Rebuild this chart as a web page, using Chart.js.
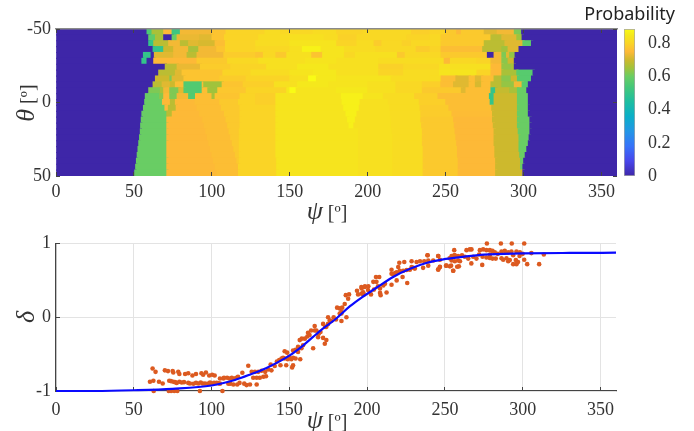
<!DOCTYPE html>
<html>
<head>
<meta charset="utf-8">
<script src="https://cdn.jsdelivr.net/npm/chart.js@4"></script>
<style>
    html, body { margin: 0; background: #fff; }
    canvas { position: absolute; left: 0; top: 0; }
</style>
</head>
<body>
<canvas id="mapChart" width="694" height="431"></canvas>
<canvas id="barChart" width="694" height="431"></canvas>
<canvas id="fitChart" width="694" height="431"></canvas>
<script>
// Probability map: each row is psi start, value, psi start, value ...
const mapThetas = [-48, -44, -40, -36, -32, -28, -24, -20, -16, -12, -8, -4, 0, 4, 8, 12, 16, 20, 24, 28, 32, 36, 40, 44, 48];
const mapRows = [
    [0,0, 58.3,.55, 61.5,.66, 69,.75, 74.4,.52, 79.7,.74, 100,.77, 109,.8, 134,.82, 144,.81, 165,.82, 180,.8, 197,.81, 228,.79, 240,.8, 250,.78, 257,.75, 260,.78, 274.7,.72, 283,.74, 294,.62, 298.7,0],
    [0,0, 59.4,.58, 63.7,.66, 69,0, 74.4,.6, 77.6,.73, 92,.72, 100,.77, 108,.8, 130,.82, 150,.83, 172,.82, 181,.795, 193,.81, 225,.8, 240,.81, 247,.78, 279,.68, 286,.72, 295.6,.65, 299,0],
    [0,0, 59.4,.5, 62.6,.68, 72.2,.74, 79.7,.68, 85,.72, 91.5,.71, 102,.76, 108.6,.8, 128,.82, 150,.84, 165,.84, 180,.8, 193,.82, 204,.785, 209,.81, 222,.795, 228,.81, 247,.78, 274.7,.68, 288,.72, 299.5,.58, 305,0],
    [0,0, 62.2,.5, 69,.7, 75.4,.74, 85,.66, 91.5,.74, 103,.77, 108.6,.8, 128,.81, 150,.83, 158,.87, 170,.84, 185,.82, 205,.81, 231,.785, 240,.8, 247,.76, 273.7,.68, 286,.65, 290,.72, 297,0],
    [0,0, 56,.5, 60.9,0, 63,.72, 75.4,.74, 84,.68, 90.4,.74, 107.6,.785, 128,.77, 133,.81, 141,.78, 148,.83, 164,.77, 171,.84, 185,.81, 192,.83, 219,.78, 224,.81, 247,.78, 276.7,0, 281,.74, 286,.62, 289,.72, 291,.64, 294.5,0],
    [0,0, 55,.5, 58.3,0, 62.6,.75, 90.4,.78, 110,.81, 130,.83, 160,.84, 180,.83, 207,.82, 249,.75, 253,.81, 270,.8, 279,.74, 286,.63, 290,.7, 294,0],
    [0,0, 70,.68, 77.6,.73, 92.6,.785, 112,.8, 135,.83, 155,.85, 175,.83, 207,.795, 223,.81, 246,.83, 279,.75, 286,.64, 292,.66, 294,0],
    [0,0, 65.8,.68, 76.5,.72, 80.8,.77, 107,.8, 125,.82, 150,.84, 165,.85, 180,.83, 207,.8, 223,.82, 246,.84, 270,.8, 279,.75, 286,.66, 295.6,.57, 306,0],
    [0,0, 63.7,.7, 73,.62, 74.4,.72, 82,.77, 105,.785, 122,.8, 150,.83, 162,.887, 167,.85, 180,.84, 215,.82, 240,.82, 247,.76, 256.5,.72, 265,.76, 269,.72, 273,.76, 281,.68, 286,.63, 292,.7, 296,.57, 305,0],
    [0,0, 62.2,.68, 68,.72, 73.3,.7, 76.5,.76, 82,.56, 93.7,.76, 94.7,.65, 106.5,.77, 120,.79, 140,.83, 155,.85, 175,.84, 200,.83, 218,.81, 235,.79, 246.8,.76, 255,.72, 265,.76, 269,.71, 273,.76, 279,.68, 286,.64, 294,.74, 299,.57, 303,0],
    [0,0, 59.4,.62, 66.9,.66, 69,.74, 72.9,.62, 78.7,.72, 82,.56, 93.7,.76, 97.3,.65, 103.7,.775, 122,.8, 148,.85, 150,.887, 154,.84, 180,.85, 200,.83, 218,.81, 235,.78, 260,.72, 263,.76, 279,.5, 282,.69, 291,.66, 296,.6, 302,0],
    [0,0, 57.2,.6, 66.4,.63, 69,.75, 72.9,.62, 77.6,.74, 85,.56, 89.4,.76, 100,.66, 102,.77, 118,.8, 128,.79, 141,.84, 183,.865, 197,.84, 210,.82, 230,.79, 245,.76, 278,.5, 281,.7, 296,.6, 303,0],
    [0,0, 56.8,.6, 68.2,.75, 73.3,.68, 76.5,.75, 89,.76, 105,.78, 117,.8, 128,.79, 141,.84, 183.5,.865, 195,.83, 213,.82, 233,.79, 250,.76, 278.5,.5, 281,.7, 296,.6, 303,0],
    [0,0, 56,.6, 69.8,.75, 72,.68, 77,.75, 90.5,.76, 106,.78, 118,.8, 141,.84, 184.5,.865, 194.5,.83, 214,.82, 233.5,.785, 252,.76, 279.5,.7, 296,.6, 303,0],
    [0,0, 55,.6, 71,.68, 74.5,.75, 92,.76, 108,.78, 118,.8, 141,.84, 186,.865, 193,.83, 214.5,.82, 234,.785, 254,.755, 280,.7, 296,.6, 303,0],
    [0,0, 54.6,.6, 71,.75, 94,.76, 109,.78, 118,.8, 141,.84, 187,.865, 192,.83, 215,.82, 234,.78, 255,.75, 280,.7, 296,.6, 304,0],
    [0,0, 54.2,.6, 71,.75, 95,.76, 110,.78, 118,.8, 141,.84, 188,.865, 191,.83, 215,.82, 234.5,.78, 255.5,.75, 280.5,.7, 296,.6, 304,0],
    [0,0, 54,.6, 71,.75, 96,.76, 111,.78, 117.5,.8, 141,.84, 194,.83, 215.5,.82, 235,.78, 256,.75, 281,.7, 296.5,.6, 304,0],
    [0,0, 53.5,.6, 71,.75, 97,.76, 112,.78, 117.5,.8, 141,.84, 194,.83, 216,.82, 235,.78, 256.5,.75, 281,.7, 297,.6, 303.5,0],
    [0,0, 53,.6, 71,.75, 98,.76, 113,.78, 117.5,.8, 141,.84, 194,.83, 216,.82, 235,.78, 257,.75, 281,.7, 297,.6, 303,0],
    [0,0, 52.5,.6, 71,.75, 99,.76, 114,.78, 117.5,.8, 141,.84, 194,.83, 216,.82, 235.5,.78, 257.5,.75, 281.5,.7, 297,.6, 302,0],
    [0,0, 52,.6, 71,.75, 100,.76, 115,.78, 117.5,.8, 141,.84, 194,.83, 216,.82, 235.5,.78, 257.5,.75, 281.5,.7, 297.5,.6, 301,0],
    [0,0, 51.5,.6, 71,.75, 101,.76, 116,.78, 117.5,.8, 141.5,.84, 194,.83, 216,.82, 235.5,.78, 258,.75, 282,.7, 298,.6, 300,0],
    [0,0, 51,.6, 71,.75, 102,.76, 117,.8, 141.5,.84, 194,.83, 216,.82, 235.5,.78, 258,.75, 282,.7, 298,.6, 299.5,0],
    [0,0, 50.4,.6, 71,.75, 103,.76, 117,.8, 141.5,.84, 194,.83, 216,.82, 235.5,.78, 258,.75, 282,.7, 299.5,0]
];

// Colour bar stops: value, r, g, b
const barStops = [
    [0, 62, 38, 168], [.09, 72, 70, 235], [.18, 55, 115, 250], [.27, 35, 150, 230],
    [.36, 10, 175, 200], [.45, 30, 190, 160], [.54, 70, 200, 120], [.6, 105, 205, 100],
    [.65, 160, 195, 60], [.7, 205, 185, 45], [.75, 253, 185, 55], [.8, 250, 212, 38],
    [.85, 245, 232, 28], [.887, 249, 251, 21]
];
const barMax = 0.887;

// Lower panel: fitted curve
const curvePsi = [0, 25, 50, 75, 100, 115, 125, 135, 150, 159, 170, 180, 189, 196, 206, 217, 228, 238, 249, 260, 275, 300, 330, 360];
const curveDelta = [-1, -1, -.99, -.97, -.925, -.85, -.775, -.69, -.52, -.38, -.18, -.02, .15, .26, .4, .55, .66, .735, .785, .815, .85, .865, .872, .875];

// Lower panel: measured points as psi, delta
const dotPairs = [
    [62.1,-.695],[64,-.74],[70,-.72],[72,-.73],[75,-.73],[75.4,-.75],[78.6,-.74],[79.3,-.77],[83,-.77],[85,-.76],[87.7,-.79],[90,-.77],[93.5,-.76],[94.6,-.78],[96.4,-.75],[98.5,-.79],[100.4,-.78],[102,-.79],
    [60.4,-.875],[62.6,-.862],[66.2,-.875],[68.6,-.898],[72.8,-.862],[73.9,-.866],[75.4,-.875],[76.5,-.88],[77.6,-.89],[79.3,-.875],[80.8,-.884],[82.3,-.88],[85,-.89],[86.1,-.898],[88.3,-.902],[91.5,-.898],[94.3,-.898],[95.8,-.898],[97.9,-.898],[100.1,-.898],[101.6,-.89],[103.3,-.89],
    [90,-.89],[93,-.885],[99,-.885],[104.5,-.895],[62.8,-1],[72.5,-1],[74,-1],[76,-1],[78,-1],[92.5,-1],[107,-1],
    [105.4,-.83],[105.4,-.9],[107.6,-.83],[110,-.82],[113,-.82],[116,-.82],[117,-.807],[119.8,-.753],[123.6,-.658],[125.8,-.74],[127.9,-.74],[130,-.74],[132.2,-.726],[136.5,-.708],[126.8,-.82],[129,-.82],[131,-.82],[133.3,-.807],[122.5,-.92],[124.7,-.911],[129,-.911],[110.8,-.9],[114,-.911],[116.5,-.911],
    [108,-.82],[111.5,-.83],[114.5,-.83],[112,-.9],[118,-.89],[121,-.9],[134.5,-.74],[138.5,-.72],[135,-.8],
    [138,-.64],[140.6,-.66],[144.3,-.65],[145,-.56],[146,-.55],[147,-.46],[148.6,-.48],[149,-.57],[148,-.65],[152.4,-.65],[151.8,-.68],[152.4,-.45],[154,-.44],[155.6,-.47],[157,-.57],[154,-.56],[151.3,-.57],[158.8,-.38],[156.7,-.31],[158,-.29],[161.6,-.26],[162,-.21],[164,-.18],[166.3,-.18],[167.4,-.18],[166.3,-.12],[165.3,-.42],[168.5,-.27],[171.7,-.28],[172.8,-.36],[173.8,-.31],[174.9,-.09],[171.7,-.09],[173.8,-.13],[176,-.04],[174.9,0],[178.5,0],[180.7,.13],[182.4,.05],[183.5,-.05],[186.7,0],[182.4,.12],[184,.13],[185.6,.18],[186.3,.3],[188.4,.31],[187.8,.25],[193.5,.36],[196.3,.41],[198.5,.41],[194.2,.31],[197.8,.31],[200.6,.37],
    [147,-.56],[149.8,-.54],[152.4,-.55],[155.6,-.4],[157.8,-.42],[163,-.24],[160,-.29],[169,-.22],[170,-.2],[173,-.13],[177,-.05],[180,-.03],[183.5,.05],[183.5,.07],[142,-.6],[143.5,-.58],
    [196.5,.39],[198.6,.42],[200.8,.42],[197.5,.34],[196.5,.32],[202.5,.31],[204.4,.375],[205.7,.546],[207.8,.546],[206,.48],[204,.48],[207,.42],[208.3,.39],[208.3,.33],[208.7,.3],[212.5,.335],[210.4,.43],[211.5,.455],[215.7,.645],[215.7,.59],[216.8,.58],[218,.6],[219,.61],[220,.68],[220.7,.74],[223.9,.75],[222.8,.546],[215.7,.44],[219,.5],[225.8,.465],[221,.63],[223.2,.63],[225.4,.64],[227.5,.645],[228.6,.68],[229.7,.67],[228.6,.76],[231.8,.75],[234,.76],[236.7,.76],[230.7,.66],[236,.67],[239.3,.7],[238.9,.84],[239.3,.77],[242.5,.77],[245.7,.83],[246.8,.78],[245.7,.645],[246.8,.68],[250.7,.7],[253.2,.69],[254.3,.77],[256,.84],[256.4,.76],[258.5,.77],[259.7,.76],[255.4,.63],[259,.69],
    [277,1],[286,1],[293,1],[301,1],[305.6,.87],[313.6,.85],[310.6,.72],[302.9,.72],[301,.78],[297,.75],[295.6,.775],[293.9,.72],[296,.72],[290.7,.76],[287.5,.78],[274,.71],[267,.73],[257.9,.685],[255.3,.63],[254,.7],[251,.7],[245.7,.65],[246.8,.685],[245.7,.83],[238.8,.84],
    [256,.91],[263.9,.91],[266,.92],[267.1,.92],[272.5,.91],[274.6,.92],[276.7,.91],[278.9,.91],[280.6,.9],[282.1,.88],[286.4,.89],[288.5,.9],[290.7,.88],[292.8,.89],[296,.89],[298.2,.88],[293.9,.84],
    [254.3,.83],[256.4,.84],[258.5,.83],[262.8,.82],[265,.795],[268.2,.82],[270.3,.795],[274.2,.82],[276.7,.81],[278.9,.805],[280.6,.795],[282.7,.795],[286.4,.8],[289.6,.8],[291.7,.775],[253,.8],[261,.84],[272,.85],[279,.85],[284,.86],[300,.86],[298,.83]
];

const tickFont = { family: '"Liberation Serif", serif', size: 18 };
const inkColor = '#444';
const gridColor = '#e3e3e3';

function colorFor(value) {
    let i = 1;
    while (i < barStops.length - 1 && barStops[i][0] < value) i++;
    const a = barStops[i - 1];
    const b = barStops[i];
    const t = Math.min(1, Math.max(0, (value - a[0]) / (b[0] - a[0])));
    const mix = k => Math.round(a[k] + (b[k] - a[k]) * t);
    return `rgb(${mix(1)}, ${mix(2)}, ${mix(3)})`;
}

// Flatten the rows into one floating bar per run
const runBars = [];
const runColors = [];
mapRows.forEach((row, r) => {
    for (let i = 0; i < row.length; i += 2) {
        const end = i + 2 < row.length ? row[i + 2] + 1 : 360;
        runBars.push({ y: mapThetas[r], x: [row[i], end] });
        runColors.push(colorFor(row[i + 1]));
    }
});

// Fixed axis boxes so the plot areas land where the padding says
const fixedSize = size => scale => {
    if (scale.isHorizontal()) scale.height = size;
    else scale.width = size;
};

function drawMathLabel(ctx, symbol, unit, cx, cy, rotated) {
    const symbolFont = 'italic 26px "Liberation Serif", serif';
    const unitFont = '20px "Liberation Serif", serif';
    ctx.save();
    ctx.fillStyle = '#333';
    ctx.textBaseline = 'alphabetic';
    ctx.translate(cx, cy);
    if (rotated) ctx.rotate(-Math.PI / 2);
    ctx.font = symbolFont;
    const sw = ctx.measureText(symbol).width;
    ctx.font = unitFont;
    const uw = unit ? ctx.measureText(unit).width + 5 : 0;
    const left = -(sw + uw) / 2;
    ctx.font = symbolFont;
    ctx.fillText(symbol, left, 7);
    if (unit) {
        ctx.font = unitFont;
        ctx.fillText(unit, left + sw + 5, 7);
    }
    ctx.restore();
}

const xAxis = (extra) => Object.assign({
    type: 'linear',
    min: 0,
    max: 360,
    afterFit: fixedSize(30),
    border: { color: inkColor, width: 1.2, z: 0 },
    grid: { color: gridColor, tickColor: inkColor, tickLength: -4, z: 0 },
    ticks: { stepSize: 50, includeBounds: false, maxRotation: 0, padding: 9, color: '#333', font: tickFont }
}, extra);

new Chart(document.getElementById('mapChart'), {
    type: 'bar',
    data: {
        datasets: [{
            data: runBars,
            backgroundColor: runColors,
            borderWidth: 0,
            barThickness: 6.4,
            grouped: false
        }]
    },
    options: {
        indexAxis: 'y',
        responsive: false,
        animation: false,
        layout: { padding: { left: 0, top: 29, right: 77, bottom: 225 } },
        plugins: { legend: { display: false }, tooltip: { enabled: false } },
        scales: {
            x: xAxis({
                border: { display: false },
                grid: { drawOnChartArea: false, tickColor: inkColor, tickLength: -4, z: 2 }
            }),
            xTop: xAxis({
                position: 'top',
                afterFit: fixedSize(0),
                border: { color: '#8a8a8a', width: 1.5, z: 2 },
                grid: { drawOnChartArea: false, tickColor: inkColor, tickLength: -4, z: 2 },
                ticks: { display: false, stepSize: 50, includeBounds: false }
            }),
            y: {
                type: 'linear',
                offset: false,
                reverse: true,
                min: -50,
                max: 50,
                afterFit: fixedSize(56),
                border: { display: false },
                grid: { offset: false, drawOnChartArea: false, tickColor: inkColor, tickLength: -4, z: 2 },
                ticks: { stepSize: 50, padding: 9, color: '#333', font: tickFont }
            },
            yRight: {
                type: 'linear',
                offset: false,
                position: 'right',
                reverse: true,
                min: -50,
                max: 50,
                afterFit: fixedSize(0),
                border: { display: false },
                grid: { offset: false, drawOnChartArea: false, tickColor: inkColor, tickLength: -4, z: 2 },
                ticks: { display: false, stepSize: 50 }
            }
        }
    },
    plugins: [{
        id: 'mapLabels',
        afterDraw(chart) {
            const { ctx, chartArea } = chart;
            drawMathLabel(ctx, '\u03c8', '[\u00ba]', 327, chartArea.bottom + 36);
            drawMathLabel(ctx, '\u03b8', '[\u00ba]', 27, 103, true);
        }
    }]
});

// Colour bar is a single floating bar painted with the map's gradient
const barCtx = document.getElementById('barChart').getContext('2d');
const barFill = barCtx.createLinearGradient(0, 176, 0, 29);
barStops.forEach(s => barFill.addColorStop(s[0] / barMax, `rgb(${s[1]}, ${s[2]}, ${s[3]})`));

new Chart(barCtx, {
    type: 'bar',
    data: {
        labels: ['Probability'],
        datasets: [{
            data: [[0, barMax]],
            backgroundColor: barFill,
            borderColor: '#a8a8a8',
            borderWidth: 1,
            borderSkipped: false,
            barPercentage: 1,
            categoryPercentage: 1
        }]
    },
    options: {
        responsive: false,
        animation: false,
        layout: { padding: { left: 624, top: 29, right: 0, bottom: 255 } },
        plugins: { legend: { display: false }, tooltip: { enabled: false } },
        scales: {
            x: { display: false },
            y: {
                position: 'right',
                min: 0,
                max: barMax,
                afterFit: fixedSize(59),
                border: { display: false },
                grid: { display: false },
                ticks: {
                    stepSize: 0.2,
                    includeBounds: false,
                    padding: 5,
                    color: '#333',
                    font: tickFont,
                    callback: v => String(Math.round(v * 10) / 10)
                }
            }
        }
    },
    plugins: [{
        id: 'barTitle',
        afterDraw(chart) {
            const ctx = chart.ctx;
            ctx.save();
            ctx.font = '18px "Noto Sans", sans-serif';
            ctx.fillStyle = '#222';
            ctx.textAlign = 'right';
            ctx.textBaseline = 'middle';
            ctx.fillText('Probability', 675, 15);
            ctx.restore();
        }
    }]
});

new Chart(document.getElementById('fitChart'), {
    type: 'scatter',
    data: {
        datasets: [
            {
                label: 'fit',
                type: 'line',
                data: curvePsi.map((p, i) => ({ x: p, y: curveDelta[i] })),
                borderColor: '#0a0aff',
                borderWidth: 2.2,
                pointRadius: 0,
                cubicInterpolationMode: 'monotone',
                clip: false
            },
            {
                label: 'points',
                data: dotPairs.map(d => ({ x: d[0], y: d[1] })),
                backgroundColor: '#dc5a20',
                borderWidth: 0,
                pointRadius: 2.3,
                clip: false
            }
        ]
    },
    options: {
        responsive: false,
        animation: false,
        layout: { padding: { left: 0, top: 243.5, right: 78, bottom: 10 } },
        plugins: { legend: { display: false }, tooltip: { enabled: false } },
        scales: {
            x: xAxis({
                ticks: { stepSize: 50, includeBounds: false, maxRotation: 0, padding: 12, color: '#333', font: tickFont }
            }),
            y: {
                type: 'linear',
                min: -1,
                max: 1,
                afterFit: fixedSize(56),
                border: { color: inkColor, width: 1.2, z: 0 },
                grid: { color: gridColor, tickColor: inkColor, tickLength: -4, z: 0 },
                ticks: { stepSize: 1, padding: 9, color: '#333', font: tickFont }
            }
        }
    },
    plugins: [{
        id: 'fitLabels',
        afterDraw(chart) {
            const ctx = chart.ctx;
            drawMathLabel(ctx, '\u03c8', '[\u00ba]', 327, 421);
            drawMathLabel(ctx, '\u03b4', '', 27, 317, true);
        }
    }]
});
</script>
</body>
</html>
